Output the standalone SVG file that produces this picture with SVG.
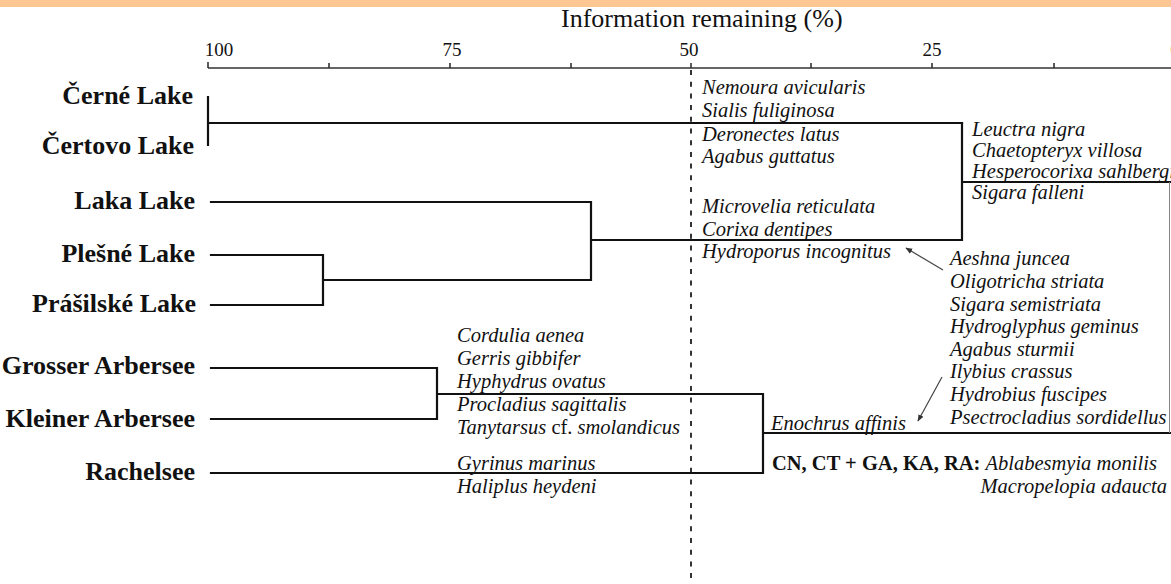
<svg xmlns="http://www.w3.org/2000/svg" width="1171" height="584" viewBox="0 0 1171 584">
<style>
text{font-family:"Liberation Serif","Times New Roman",serif;fill:#111}
.lake{font-size:26px;font-weight:bold;text-anchor:end}
.sp{font-size:20.5px;font-style:italic}
.tick{font-size:19px;text-anchor:middle}
.ax{stroke:#333;stroke-width:1.6;fill:none}
.ln{stroke:#111;stroke-width:2.2;fill:none;stroke-linecap:square}
.arr{stroke:#444;stroke-width:1.2;fill:none}
</style>
<defs>
<marker id="ah" viewBox="0 0 10 10" refX="9" refY="5" markerWidth="7" markerHeight="7" orient="auto-start-reverse" markerUnits="userSpaceOnUse">
<path d="M0,1 L10,5 L0,9 z" fill="#333"/>
</marker>
</defs>
<rect x="0" y="0" width="1171" height="584" fill="#fff"/>
<rect x="0" y="0" width="1171" height="7" fill="#FDC793"/>

<g id="axis">
<text x="561" y="27" style="font-size:26px">Information remaining (%)</text>
<path class="ax" d="M208,68 H1171 M208,62 V68 M329,63 V68 M450,63 V68 M571,63 V68 M691,63 V68 M811,63 V68 M932,63 V68 M1054,63 V68"/>
<text class="tick" x="219" y="56">100</text>
<text class="tick" x="452" y="56">75</text>
<text class="tick" x="689" y="56">50</text>
<text class="tick" x="932" y="56">25</text>
<text class="tick" x="1175" y="56">0</text>
<line x1="691" y1="70" x2="691" y2="584" stroke="#333" stroke-width="2" stroke-dasharray="5 6.7"/>
</g>

<g id="lake-cerne"><text class="lake" x="193" y="104">Černé Lake</text></g>
<g id="lake-certovo"><text class="lake" x="194" y="154">Čertovo Lake</text></g>
<g id="lake-laka"><text class="lake" x="195" y="209">Laka Lake</text></g>
<g id="lake-plesne"><text class="lake" x="195" y="262">Plešné Lake</text></g>
<g id="lake-prasilske"><text class="lake" x="196" y="312">Prášilské Lake</text></g>
<g id="lake-grosser"><text class="lake" x="195" y="374">Grosser Arbersee</text></g>
<g id="lake-kleiner"><text class="lake" x="195" y="427">Kleiner Arbersee</text></g>
<g id="lake-rachelsee"><text class="lake" x="195" y="480">Rachelsee</text></g>

<g id="connectors">
<path class="ln" d="M208,97 V145 M208,123 H962"/>
<path class="ln" d="M211,202 H591 V280 M211,255 H323 V305 H211 M323,280 H591 M591,240 H962 V123 M962,182 H1171"/>
<path class="ln" d="M211,368 H437 V419 H211 M437,394 H763 V473 H211 M763,433 H1171"/>
<line x1="1169.5" y1="182" x2="1169.5" y2="433" stroke="#888" stroke-width="1"/>
<line class="arr" x1="943" y1="270" x2="906" y2="248" marker-end="url(#ah)"/>
<line class="arr" x1="942" y1="377" x2="918" y2="421" marker-end="url(#ah)"/>
</g>

<g id="species-cerne-certovo">
<text class="sp" x="702" y="94">Nemoura avicularis</text>
<text class="sp" x="702" y="117">Sialis fuliginosa</text>
<text class="sp" x="702" y="141">Deronectes latus</text>
<text class="sp" x="702" y="163">Agabus guttatus</text>
</g>
<g id="species-laka-plesne-prasilske">
<text class="sp" x="702" y="213">Microvelia reticulata</text>
<text class="sp" x="702" y="236">Corixa dentipes</text>
<text class="sp" x="702" y="258">Hydroporus incognitus</text>
</g>
<g id="species-bohemian">
<text class="sp" x="972" y="136">Leuctra nigra</text>
<text class="sp" x="972" y="157">Chaetopteryx villosa</text>
<text class="sp" x="972" y="178">Hesperocorixa sahlbergi</text>
<text class="sp" x="972" y="199">Sigara falleni</text>
</g>
<g id="species-shared">
<text class="sp" x="950" y="265">Aeshna juncea</text>
<text class="sp" x="950" y="288">Oligotricha striata</text>
<text class="sp" x="950" y="311">Sigara semistriata</text>
<text class="sp" x="950" y="333">Hydroglyphus geminus</text>
<text class="sp" x="950" y="356">Agabus sturmii</text>
<text class="sp" x="950" y="378">Ilybius crassus</text>
<text class="sp" x="950" y="401">Hydrobius fuscipes</text>
<text class="sp" x="950" y="424">Psectrocladius sordidellus</text>
</g>
<g id="species-enochrus">
<text class="sp" x="771" y="430">Enochrus affinis</text>
</g>
<g id="species-cn-ct-ga-ka-ra">
<text x="772" y="470" style="font-size:20.5px;font-weight:bold">CN, CT + GA, KA, RA: <tspan style="font-weight:normal;font-style:italic">Ablabesmyia monilis</tspan></text>
<text class="sp" x="1167" y="493" text-anchor="end">Macropelopia adaucta</text>
</g>
<g id="species-arbersee">
<text class="sp" x="457" y="342">Cordulia aenea</text>
<text class="sp" x="457" y="365">Gerris gibbifer</text>
<text class="sp" x="457" y="388">Hyphydrus ovatus</text>
<text class="sp" x="457" y="411">Procladius sagittalis</text>
<text class="sp" x="457" y="434">Tanytarsus <tspan style="font-style:normal">cf.</tspan> smolandicus</text>
</g>
<g id="species-rachelsee">
<text class="sp" x="457" y="470">Gyrinus marinus</text>
<text class="sp" x="457" y="493">Haliplus heydeni</text>
</g>
</svg>
